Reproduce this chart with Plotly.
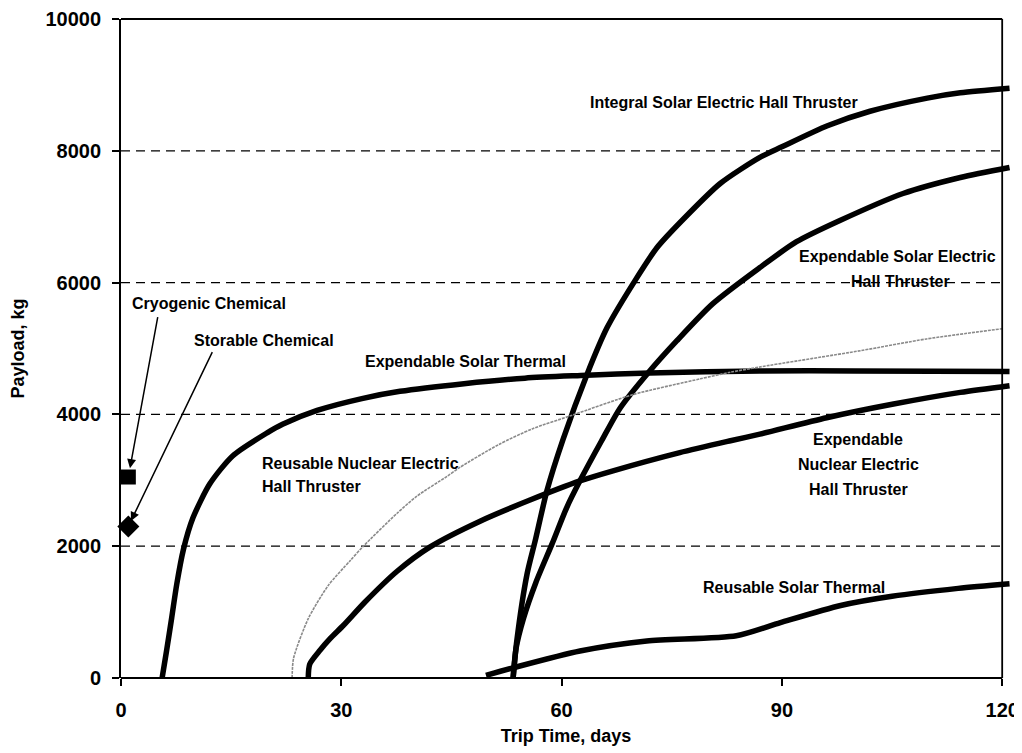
import plotly.graph_objects as go

# ---------------- data ----------------
x_ticks = [0, 30, 60, 90, 120]
y_ticks = [0, 2000, 4000, 6000, 8000, 10000]
grid_levels = [2000, 4000, 6000, 8000]

# Expendable Solar Thermal
est_days = [5.6, 6.2, 6.9, 7.6, 8.5, 9.8, 12.1, 15.2, 19.9, 22.0, 26.7, 32.8, 38.0, 46.7, 55.0, 62.6, 72.0, 87.0, 100.0, 121.0]
est_kg = [0, 410, 911, 1428, 1950, 2430, 2947, 3370, 3720, 3850, 4060, 4240, 4350, 4466, 4550, 4590, 4630, 4660, 4660, 4650]

# Integral Solar Electric Hall Thruster
isl_days = [53.4, 53.9, 55.3, 56.4, 58.0, 60.2, 63.5, 66.2, 70.0, 73.0, 76.4, 81.6, 87.0, 90.0, 96.2, 102.0, 109.8, 114.3, 121.0]
isl_kg = [0, 562, 1580, 2081, 2840, 3620, 4618, 5317, 6030, 6532, 6942, 7504, 7900, 8060, 8380, 8600, 8800, 8880, 8950]

# Expendable Solar Electric Hall Thruster
esl_days = [53.4, 53.8, 54.8, 56.5, 58.7, 60.7, 62.5, 65.45, 68.0, 71.8, 75.7, 80.6, 87.0, 92.0, 97.9, 106.5, 114.3, 121.0]
esl_kg = [0, 450, 900, 1450, 2035, 2587, 2992, 3600, 4101, 4633, 5119, 5681, 6228, 6620, 6942, 7352, 7595, 7747]

# Expendable Nuclear Electric Hall Thruster
enl_days = [25.5, 25.7, 27.1, 28.5, 30.3, 33.2, 37.6, 42.1, 48.9, 55.7, 62.5, 67.0, 76.1, 83.0, 87.0, 96.1, 105.2, 114.3, 121.0]
enl_kg = [0, 210, 420, 600, 800, 1150, 1620, 1990, 2380, 2700, 2990, 3144, 3420, 3600, 3700, 3950, 4157, 4334, 4435]

# Reusable Solar Thermal
rst_days = [49.7, 53.4, 62.5, 71.6, 83.8, 89.8, 98.0, 105.0, 114.0, 121.0]
rst_kg = [40, 155, 410, 562, 640, 840, 1100, 1240, 1360, 1430]

# Reusable Nuclear Electric Hall Thruster (thin grey)
rne_days = [23.3, 23.5, 25.5, 28.2, 31.2, 33.0, 37.6, 40.3, 44.4, 46.2, 51.4, 56.0, 61.5, 69.7, 78.9, 83.0, 87.0, 100.7, 109.7, 120.0]
rne_kg = [0, 300, 900, 1400, 1780, 2000, 2500, 2760, 3060, 3200, 3540, 3780, 3990, 4300, 4540, 4640, 4720, 4967, 5145, 5300]

# Chemical points
chem_names = ["Cryogenic Chemical", "Storable Chemical"]
chem_days = [1, 1]
chem_kg = [3050, 2300]

# ---------------- figure ----------------
FONT = "Liberation Sans, Arial, sans-serif"
X_MAX = 121.2  # axis range end (curves run slightly past the 120-day frame)
fig = go.Figure()

for d, k in [(est_days, est_kg), (isl_days, isl_kg), (esl_days, esl_kg),
             (enl_days, enl_kg), (rst_days, rst_kg)]:
    fig.add_trace(go.Scatter(x=d, y=k, mode="lines",
                             line=dict(color="black", width=5.5, shape="spline", smoothing=0.7),
                             showlegend=False, hoverinfo="skip"))

fig.add_trace(go.Scatter(x=rne_days, y=rne_kg, mode="lines",
                         line=dict(color="#8a8a8a", width=1.6, dash="3px,1px",
                                   shape="spline", smoothing=0.7),
                         showlegend=False, hoverinfo="skip"))

fig.add_trace(go.Scatter(x=[chem_days[0]], y=[chem_kg[0]], mode="markers",
                         marker=dict(symbol="square", size=15, color="black"),
                         cliponaxis=False, showlegend=False, hoverinfo="skip"))
fig.add_trace(go.Scatter(x=[chem_days[1]], y=[chem_kg[1]], mode="markers",
                         marker=dict(symbol="diamond", size=17, color="black"),
                         cliponaxis=False, showlegend=False, hoverinfo="skip"))

shapes = []
for g in grid_levels:
    shapes.append(dict(type="line", xref="x", yref="y", x0=0, x1=x_ticks[-1], y0=g, y1=g,
                       line=dict(color="black", width=1.3, dash="9px,6px"), layer="below"))
frame = dict(color="black", width=1.8)
fx = x_ticks[-1] / X_MAX
shapes.append(dict(type="line", xref="paper", yref="paper", x0=0, x1=fx, y0=0, y1=0, line=frame, layer="above"))
shapes.append(dict(type="line", xref="paper", yref="paper", x0=0, x1=fx, y0=1, y1=1, line=frame, layer="above"))
shapes.append(dict(type="line", xref="paper", yref="paper", x0=fx, x1=fx, y0=0, y1=1, line=frame, layer="above"))

lab_font = dict(family=FONT, size=16, color="black", weight="bold")
labels = [
    ("Cryogenic Chemical", 12.05, 5681, "center"),
    ("Storable Chemical", 19.5, 5119, "center"),
    ("Expendable Solar Thermal", 46.9, 4800, "center"),
    ("Reusable Nuclear Electric", 18.9, 3260, "left"),
    ("Hall Thruster", 18.9, 2910, "left"),
    ("Integral Solar Electric Hall Thruster", 82.1, 8734, "center"),
    ("Expendable Solar Electric", 105.7, 6395, "center"),
    ("Hall Thruster", 106.2, 6015, "center"),
    ("Expendable", 100.4, 3620, "center"),
    ("Nuclear Electric", 100.4, 3240, "center"),
    ("Hall Thruster", 100.4, 2860, "center"),
    ("Reusable Solar Thermal", 91.6, 1367, "center"),
]
annotations = []
for t, xx, yy, anc in labels:
    annotations.append(dict(text=t, x=xx, y=yy, xref="x", yref="y", showarrow=False,
                            xanchor=anc, yanchor="middle", font=lab_font))

# arrows from the chemical labels to their markers
arrow_tails = [(5.04, 5499), (12.53, 4967)]
for (tx, ty), cx, cy, so in zip(arrow_tails, chem_days, chem_kg, [9, 6]):
    annotations.append(dict(text="", x=cx, y=cy, xref="x", yref="y",
                            ax=tx, ay=ty, axref="x", ayref="y", showarrow=True,
                            arrowhead=2, arrowsize=1.2, arrowwidth=1.5,
                            arrowcolor="black", standoff=so))

tick_font = dict(family=FONT, size=20, color="black", weight="bold")
title_font = dict(family=FONT, size=18, color="black", weight="bold")

# the page body has an 8px margin; the figure is sized/offset to compensate
fig.update_layout(
    width=1014, height=745,
    margin=dict(l=113, r=11, t=11, b=75, pad=0, autoexpand=False),
    plot_bgcolor="white", paper_bgcolor="white",
    shapes=shapes, annotations=annotations,
    xaxis=dict(range=[0, X_MAX], tickvals=x_ticks, ticktext=[str(v) for v in x_ticks],
               ticks="outside", ticklen=7, tickwidth=1.5, tickcolor="black",
               showline=False, showgrid=False, zeroline=False, automargin=False,
               tickfont=tick_font, ticklabelstandoff=7, ticklabeloverflow="allow",
               title=dict(text="Trip Time, days", font=title_font, standoff=9)),
    yaxis=dict(range=[0, 10000], tickvals=y_ticks, ticktext=[str(v) for v in y_ticks],
               ticks="outside", ticklen=7, tickwidth=1.5, tickcolor="black",
               showline=True, linewidth=1.8, linecolor="black",
               showgrid=False, zeroline=False, automargin=False,
               tickfont=tick_font, ticklabelstandoff=7, ticklabeloverflow="allow",
               title=dict(text="Payload, kg", font=title_font, standoff=20)),
)

fig.write_html("out.html")
